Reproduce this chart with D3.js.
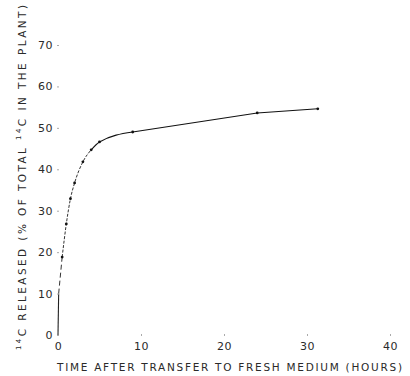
<!DOCTYPE html>
<html>
<head>
<meta charset="utf-8">
<script src="https://cdn.jsdelivr.net/npm/d3@7"></script>
<style>
  body { margin: 0; background: #fff; }
  text { font-family: "DejaVu Sans", sans-serif; fill: #2a2a2a; }
</style>
</head>
<body>
<div id="chart"></div>
<script>
// measured points (hours, % of total 14C released)
const hours = [0.5, 1, 1.5, 2, 3, 4, 5, 9, 24, 31.3];
const released = [18.8, 26.8, 32.9, 36.7, 41.8, 44.7, 46.6, 49.0, 53.6, 54.6];
// the curve starts at the origin, solid up to about 10%
const startHours = [0, 0.08];
const startReleased = [0, 10];
const xTicks = [0, 10, 20, 30, 40];
const yTicks = [0, 10, 20, 30, 40, 50, 60, 70];

const width = 410, height = 376;

const svg = d3.select('#chart')
  .append('svg')
  .attr('width', width)
  .attr('height', height);

const x = d3.scaleLinear().domain([0, 40]).range([58, 390]);
const y = d3.scaleLinear().domain([0, 70]).range([335, 45]);

// all points along the curve
const pts = startHours.map((h, i) => [h, startReleased[i]])
  .concat(hours.map((h, i) => [h, released[i]]));

const line = d3.line()
  .x(d => x(d[0]))
  .y(d => y(d[1]))
  .curve(d3.curveMonotoneX);

// solid bit at the origin
svg.append('path')
  .attr('d', line(pts.slice(0, 2)))
  .attr('fill', 'none')
  .attr('stroke', '#222')
  .attr('stroke-width', 1.1);

// dashed up to the first point
svg.append('path')
  .attr('d', line(pts.slice(1, 3)))
  .attr('fill', 'none')
  .attr('stroke', '#333')
  .attr('stroke-width', 1)
  .attr('stroke-dasharray', '5,3');

// fine dashes on the steep part
svg.append('path')
  .attr('d', line(pts.slice(2, 8)))
  .attr('fill', 'none')
  .attr('stroke', '#333')
  .attr('stroke-width', 1)
  .attr('stroke-dasharray', '3,1.5');

// bend into the plateau
svg.append('path')
  .attr('d', line(pts.slice(7, 10)))
  .attr('fill', 'none')
  .attr('stroke', '#111')
  .attr('stroke-width', 1.1);

// plateau is drawn almost straight
svg.append('path')
  .attr('d', line.curve(d3.curveLinear)(pts.slice(9)))
  .attr('fill', 'none')
  .attr('stroke', '#111')
  .attr('stroke-width', 1.1);

svg.selectAll('circle')
  .data(hours)
  .enter()
  .append('circle')
  .attr('cx', d => x(d))
  .attr('cy', (d, i) => y(released[i]))
  .attr('r', 1.4)
  .attr('fill', '#111');

// axes: only tiny tick marks, no axis line
const yAxis = svg.append('g')
  .attr('transform', `translate(${x(0)},0)`)
  .call(d3.axisLeft(y).tickValues(yTicks).tickSize(0).tickPadding(5));
yAxis.select('.domain').remove();
yAxis.selectAll('text')
  .style('font-size', '11px')
  .style('letter-spacing', '0.5px')
  .attr('fill', '#333');
yAxis.selectAll('.tick')
  .append('line')
  .attr('x1', -1).attr('x2', 1)
  .attr('stroke', '#aaa');

const xAxis = svg.append('g')
  .attr('transform', `translate(0,${y(0)})`)
  .call(d3.axisBottom(x).tickValues(xTicks).tickSize(0).tickPadding(7));
xAxis.select('.domain').remove();
xAxis.selectAll('text')
  .style('font-size', '11px')
  .style('letter-spacing', '0.5px')
  .attr('fill', '#333');
xAxis.selectAll('.tick')
  .filter(d => d > 0)
  .append('line')
  .attr('y1', -1).attr('y2', 1)
  .attr('stroke', '#aaa');

// axis titles
svg.append('text')
  .attr('x', 57)
  .attr('y', 371)
  .attr('textLength', 345)
  .attr('lengthAdjust', 'spacing')
  .style('font-size', '10.5px')
  .text('TIME AFTER TRANSFER TO FRESH MEDIUM (HOURS)');

const yTitle = svg.append('text')
  .attr('transform', 'translate(26,350) rotate(-90)')
  .attr('textLength', 345)
  .attr('lengthAdjust', 'spacing')
  .style('font-size', '10.5px');
yTitle.append('tspan').attr('dy', -5).style('font-size', '7px').text('14');
yTitle.append('tspan').attr('dy', 5).text('C RELEASED (% OF TOTAL ');
yTitle.append('tspan').attr('dy', -5).style('font-size', '7px').text('14');
yTitle.append('tspan').attr('dy', 5).text('C IN THE PLANT)');
</script>
</body>
</html>
